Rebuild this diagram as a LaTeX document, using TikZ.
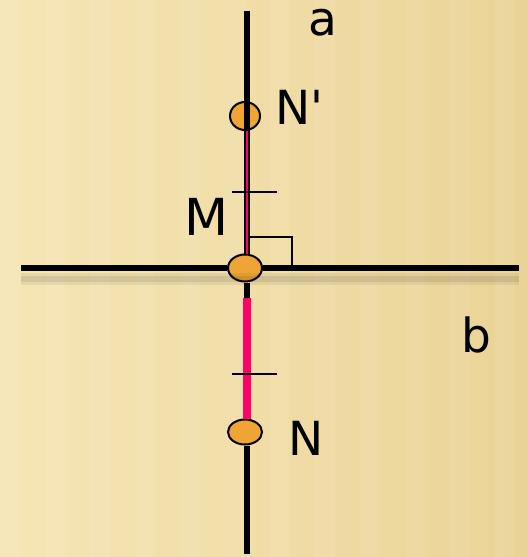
\documentclass[tikz,border=0pt]{standalone}
\usepackage{fontspec}
\newfontfamily\labfont{DejaVu Sans}
\usepackage{tikz}
\usetikzlibrary{positioning}
\usetikzlibrary{shapes,calc}
\definecolor{paperlight}{HTML}{F6E6B6}
\definecolor{paperdark}{HTML}{EAD396}
\definecolor{dotfill}{HTML}{EEA535}
\definecolor{segpink}{HTML}{FF0066}
\tikzset{
  x=1pt, y=-1pt,
  pt/.style = {ellipse, draw=black, line width=2pt, fill=dotfill,
   minimum width=34pt, minimum height=27pt, inner sep=0pt},
  lab/.style = {anchor=base, inner sep=0pt, text height=26pt, text depth=0pt,
   font=\labfont\fontsize{47}{47}\selectfont},
  axis/.style = {line width=5.5pt},
  tick/.style = {line width=2pt},
}

\begin{document}
\begin{tikzpicture}
  % background
  \useasboundingbox (0,0) rectangle (527,557);
  \clip (0,0) rectangle (527,557);
  \shade[left color=paperlight, right color=paperdark] (0,0) rectangle (527,557);
  \foreach \s in {0,45,...,510}
    \fill[white, opacity=0.07] (\s,0) rectangle ++(20,557);

  % points
  \node (Np) [pt, minimum width=30pt, minimum height=28pt] at (245,116) {};
  \node (M)  [pt] at (245,268) {};
  \node (N)  [pt, minimum height=25pt] at (245,432) {};
  \coordinate (atop) at (247,11);
  \coordinate (abot) at (247,554);
  \coordinate (bl) at (21,268);
  \coordinate (br) at (519,268);
  \coordinate (pk) at (247,298);

  % line b with its shadow
  \draw[line width=12pt, black, opacity=0.06] ($(bl)+(0,11)$) -- ($(br)+(0,11)$);
  \draw[line width=6pt, black, opacity=0.08] ($(bl)+(0,11)$) -- ($(br)+(0,11)$);
  \draw[axis] (bl) -- (M);
  \draw[axis] (M) -- (br);

  % line a
  \draw[axis] (atop) -- (Np.south -| atop);
  \draw[axis] (Np.south -| atop) -- (M.north -| atop);
  \draw[axis] (M.south -| atop) -- (N.north -| atop);
  \draw[axis] (N.south -| atop) -- (abot);

  % segments MN' and MN
  \draw[segpink, line width=2pt] (Np.south -| atop) -- (M.north -| atop);
  \draw[segpink, line width=8pt] (pk) -- (N.north -| pk);

  % equal marks and right angle
  \draw[tick] (232,192) -- (277,192);
  \draw[tick] (232,374) -- (277,374);
  \draw[line width=1.6pt] ($(M)+(5,-31)$) -| ($(M)+(47,0)$);

  % labels
  \node (la) [lab] at (323,35) {a};
  \node (lb) [lab] at (476,352) {b};
  \node (lNp) [lab, anchor=base west] at (275,124) {N\textquotesingle};
  \node (lM) [lab, font=\labfont\fontsize{51}{51}\selectfont] at (206,235) {M};
  \node (lN) [lab] at (306,455) {N};
\end{tikzpicture}
\end{document}
